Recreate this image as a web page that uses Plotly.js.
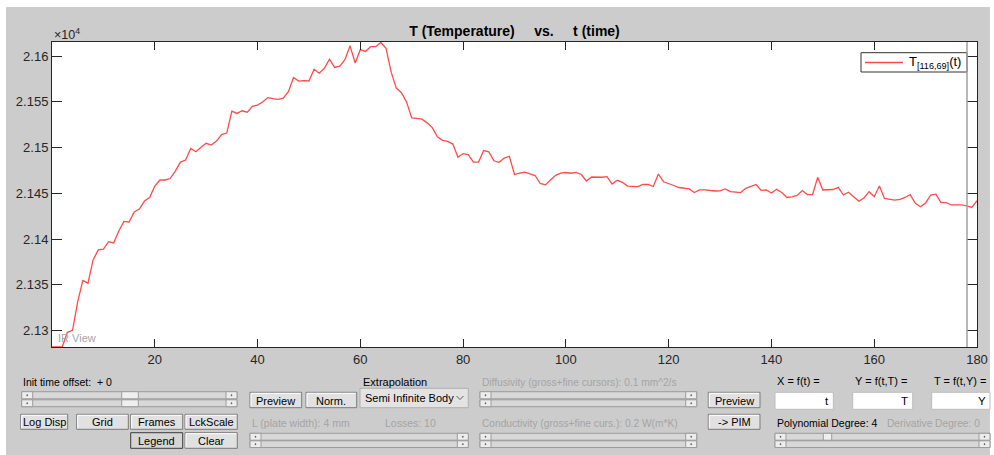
<!DOCTYPE html>
<html>
<head>
<meta charset="utf-8">
<script src="https://cdn.plot.ly/plotly-3.0.1.min.js"></script>
<style>
  html, body { margin: 0; padding: 0; background: #ffffff; }
  #chart { width: 994px; height: 455px; }
</style>
</head>
<body>
<div id="chart"></div>
<script>
// ---------------- data ----------------
const time = [0,1,2,3,4,5,6,7,8,9,10,11,12,13,14,15,16,17,18,19,20,21,22,23,24,25,26,27,28,29,
  30,31,32,33,34,35,36,37,38,39,40,41,42,43,44,45,46,47,48,49,50,51,52,53,54,55,56,57,58,59,
  60,61,62,63,64,65,66,67,68,69,70,71,72,73,74,75,76,77,78,79,80,81,82,83,84,85,86,87,88,89,
  90,91,92,93,94,95,96,97,98,99,100,101,102,103,104,105,106,107,108,109,110,111,112,113,114,115,116,117,118,119,
  120,121,122,123,124,125,126,127,128,129,130,131,132,133,134,135,136,137,138,139,140,141,142,143,144,145,146,147,148,149,
  150,151,152,153,154,155,156,157,158,159,160,161,162,163,164,165,166,167,168,169,170,171,172,173,174,175,176,177,178,179,180];

const temperature = [
  21282.2, 21282.2, 21282.2, 21298.0, 21300.2, 21331.4, 21354.8, 21351.8, 21377.2, 21388.1,
  21388.9, 21397.2, 21395.8, 21408.9, 21419.3, 21418.7, 21429.6, 21432.9, 21441.6, 21445.5,
  21458.0, 21464.6, 21464.6, 21466.2, 21474.4, 21484.2, 21486.4, 21499.0, 21495.5, 21500.3,
  21504.7, 21502.8, 21507.2, 21514.3, 21515.9, 21539.9, 21537.4, 21540.3, 21538.8, 21545.2,
  21546.5, 21549.8, 21554.7, 21553.6, 21552.7, 21554.1, 21561.2, 21576.7, 21572.7, 21573.3,
  21572.9, 21585.8, 21581.4, 21586.7, 21596.7, 21587.7, 21589.1, 21596.2, 21611.3, 21592.6,
  21607.1, 21605.2, 21610.4, 21610.4, 21615.0, 21608.7, 21582.5, 21565.1, 21560.1, 21549.8,
  21532.5, 21532.0, 21531.2, 21527.1, 21521.9, 21511.9, 21507.9, 21506.9, 21503.9, 21489.4,
  21493.5, 21492.4, 21484.2, 21484.2, 21496.8, 21495.4, 21485.6, 21483.9, 21488.6, 21490.6,
  21470.6, 21472.2, 21473.1, 21471.4, 21469.5, 21460.8, 21459.3, 21464.6, 21469.7, 21472.2,
  21472.8, 21472.0, 21473.0, 21470.6, 21463.5, 21467.9, 21467.6, 21467.6, 21468.2, 21460.2,
  21464.3, 21462.1, 21458.0, 21457.3, 21457.3, 21459.7, 21459.9, 21457.5, 21471.1, 21462.7,
  21461.0, 21458.6, 21456.4, 21455.5, 21454.8, 21450.9, 21453.7, 21453.7, 21453.1, 21452.6,
  21452.8, 21454.8, 21452.0, 21451.5, 21450.9, 21455.5, 21457.5, 21459.7, 21453.3, 21453.7,
  21450.4, 21454.4, 21450.9, 21445.5, 21446.2, 21447.7, 21453.1, 21448.7, 21448.7, 21467.5,
  21453.7, 21453.7, 21454.2, 21456.6, 21448.2, 21451.2, 21446.0, 21441.4, 21444.9, 21451.8,
  21446.3, 21458.0, 21444.4, 21443.3, 21442.7, 21443.3, 21445.5, 21448.7, 21439.1, 21435.4,
  21439.5, 21448.2, 21449.1, 21439.8, 21439.8, 21437.3, 21437.3, 21437.3, 21436.2, 21434.6,
  21442.0];

const seriesName = "T<sub>[116,69]</sub>(t)";
const xTickVals = [20, 40, 60, 80, 100, 120, 140, 160, 180];
const yTickVals = [21300, 21350, 21400, 21450, 21500, 21550, 21600];
const yTickText = ["2.13", "2.135", "2.14", "2.145", "2.15", "2.155", "2.16"];
const xRange = [0, 180];
const yRange = [21282, 21615.5];
const lineColor = "#ff4a4a";

// ---------------- geometry helpers (pixel -> paper) ----------------
const PL = 52, PR = 977, PT = 42, PB = 347;
const fx = x => (x - PL) / (PR - PL);
const fy = y => (PB - y) / (PB - PT);
const FONT = "Liberation Sans, Arial, sans-serif";
const BG = "#cccccc";
const shapes = [];
const annotations = [];

function rect(x0, y0, x1, y1, fill, line, lw) {
  shapes.push({type: "rect", xref: "paper", yref: "paper",
    x0: fx(x0), x1: fx(x1), y0: fy(y1), y1: fy(y0),
    fillcolor: fill, line: {color: line || fill, width: lw === undefined ? 1 : lw}});
}
function seg(x0, y0, x1, y1, color, w) {
  shapes.push({type: "line", xref: "paper", yref: "paper",
    x0: fx(x0), x1: fx(x1), y0: fy(y0), y1: fy(y1),
    line: {color: color, width: w || 1}});
}
function label(x, y, text, anchor, color, size, bold) {
  annotations.push({xref: "paper", yref: "paper", x: fx(x), y: fy(y),
    text: bold ? "<b>" + text + "</b>" : text, showarrow: false,
    xanchor: anchor || "left", yanchor: "middle",
    font: {family: FONT, size: size || 10.5, color: color || "#000000"}});
}
function button(x0, y0, x1, y1, text, pressed) {
  rect(x0, y0, x1, y1, pressed ? "#d6d6d6" : "#e1e1e1", pressed ? "#3c3c3c" : "#7a7a7a", 1);
  if (!pressed) {
    seg(x0 + 1, y0 + 1, x1 - 1, y0 + 1, "#ffffff", 1);
    seg(x0 + 1, y0 + 1, x0 + 1, y1 - 1, "#ffffff", 1);
  }
  label((x0 + x1) / 2, (y0 + y1) / 2 + 0.5, text, "center", "#000000", 11);
}
function slider(x0, y0, x1, y1, t0, t1) {
  rect(x0, y0, x1, y1, "#d8d8d8", "#9c9c9c", 1);
  rect(x0, y0, x0 + 11, y1, "#ededed", "#9c9c9c", 1);
  rect(x1 - 11, y0, x1, y1, "#ededed", "#9c9c9c", 1);
  const cy = (y0 + y1) / 2;
  rect(x0 + 5, cy - 0.5, x0 + 6, cy + 0.5, "#555555", "#555555", 0.5);
  rect(x1 - 6, cy - 0.5, x1 - 5, cy + 0.5, "#555555", "#555555", 0.5);
  if (t0 !== undefined) rect(t0, y0, t1, y1, "#efefef", "#9c9c9c", 1);
}

// outer white frame around the grey window
rect(0, 0, 994, 7, "#ffffff", "#ffffff", 0);
rect(0, 0, 6, 455, "#ffffff", "#ffffff", 0);
rect(990, 0, 994, 455, "#ffffff", "#ffffff", 0);

// legend box (drawn to match the compact MATLAB legend)
rect(861, 52.7, 967, 72, "#ffffff", "#333333", 1);
seg(865, 62.5, 903, 62.5, lineColor, 1.3);
label(906.5, 62.5, seriesName, "left", "#000000", 13);

// second axes edge near the right border
seg(967, PT, 967, PB, "#a0a0a0", 1.5);

// x10^4 exponent label and IR View
label(52, 34, "\u00d710<sup>4</sup>", "left", "#262626", 12.5);
label(56, 338, "IR View", "left", "#a6a6a6", 11);

// ---------------- GUI controls ----------------
const DIS = "#a4a4a4";
label(21, 381.7, "Init time offset:\u00a0\u00a0+ 0", "left", "#000");
slider(21.7, 391.7, 237, 398.8, 121.7, 138.3);
slider(21.7, 399.8, 237, 406.7, 121.7, 138.3);
button(20.7, 414.3, 67.7, 429.3, "Log Disp");
button(76.7, 414.3, 128.3, 429.3, "Grid");
button(130.7, 414.3, 182.7, 429.3, "Frames");
button(185, 414.3, 237.3, 429.3, "LckScale");
button(130.7, 432.7, 182.7, 448.3, "Legend", true);
button(185, 432.7, 237.3, 448.3, "Clear");

button(250, 392.3, 301.7, 407.7, "Preview");
button(306, 392.3, 356.7, 407.7, "Norm.");
label(361, 381.7, "Extrapolation", "left", "#000", 11);
rect(360, 388.3, 468.3, 407.7, "#e3e3e3", "#b0b0b0", 1);
label(362.5, 397.5, "Semi Infinite Body", "left", "#000", 11);
seg(456.5, 396, 460, 399.5, "#606060", 1);
seg(460, 399.5, 463.5, 396, "#606060", 1);
label(250, 423.3, "L (plate width): 4 mm", "left", DIS);
label(383.3, 423.3, "Losses: 10", "left", DIS);
slider(250, 433.3, 468.3, 440.2);
slider(250, 440.8, 468.3, 447.5);

label(480, 382.7, "Diffusivity (gross+fine cursors): 0.1 mm^2/s", "left", DIS, 10.2);
slider(480, 391.7, 696.7, 398.8);
slider(480, 399.8, 696.7, 406.7);
label(480, 423.3, "Conductivity (gross+fine curs.): 0.2 W(m*K)", "left", DIS, 10.2);
slider(480, 433.3, 696.7, 440.2);
slider(480, 440.8, 696.7, 447.5);

button(708.3, 392.3, 760, 407.7, "Preview");
button(708.3, 414.3, 760, 429.3, "-> PIM");

label(775, 380.7, "X = f(t) =", "left", "#000", 11);
label(852.7, 380.7, "Y = f(t,T) =", "left", "#000", 11);
label(931.7, 380.7, "T = f(t,Y) =", "left", "#000", 11);
rect(775, 392.3, 833.3, 409.3, "#ffffff", "#bdbdbd", 1);
rect(852.7, 392.3, 912.7, 409.3, "#ffffff", "#bdbdbd", 1);
rect(931.7, 392.3, 990, 409.3, "#ffffff", "#bdbdbd", 1);
label(831, 401, "t", "right", "#000", 11.5);
label(910, 401, "T", "right", "#000", 11.5);
label(988, 401, "Y", "right", "#000", 11.5);
label(775, 423.3, "Polynomial Degree: 4", "left", "#000", 10.5);
label(885, 423.3, "Derivative Degree: 0", "left", DIS, 10.2);
slider(775, 433.3, 990, 440.2, 823.3, 831.7);
slider(775, 440.8, 990, 447.5);

// ---------------- plot ----------------
const trace = {
  x: time, y: temperature, type: "scatter", mode: "lines",
  name: seriesName, line: {color: lineColor, width: 1.3}, hoverinfo: "skip",
  showlegend: false
};

const axisCommon = {
  showline: true, linecolor: "#262626", linewidth: 1, mirror: "ticks",
  ticks: "inside", tickcolor: "#262626", tickwidth: 1,
  showgrid: false, zeroline: false,
  tickfont: {family: FONT, size: 13, color: "#262626"}
};

const layout = {
  width: 994, height: 455,
  margin: {l: PL, r: 994 - PR, t: PT, b: 455 - PB, pad: 0},
  paper_bgcolor: BG, plot_bgcolor: "#ffffff",
  title: {
    text: "<b>T (Temperature)\u00a0\u00a0\u00a0\u00a0\u00a0vs.\u00a0\u00a0\u00a0\u00a0\u00a0t (time)</b>",
    font: {family: FONT, size: 14, color: "#000000"},
    xref: "paper", x: 0.5, xanchor: "center",
    yref: "container", y: 1 - 31 / 455, yanchor: "middle"
  },
  xaxis: Object.assign({}, axisCommon, {
    range: xRange, tickmode: "array", tickvals: xTickVals, ticklen: 8
  }),
  yaxis: Object.assign({}, axisCommon, {
    range: yRange, tickmode: "array", tickvals: yTickVals, ticktext: yTickText, ticklen: 10
  }),
  showlegend: false,
  shapes: shapes,
  annotations: annotations
};

Plotly.newPlot("chart", [trace], layout, {staticPlot: true, displayModeBar: false});
</script>
</body>
</html>
